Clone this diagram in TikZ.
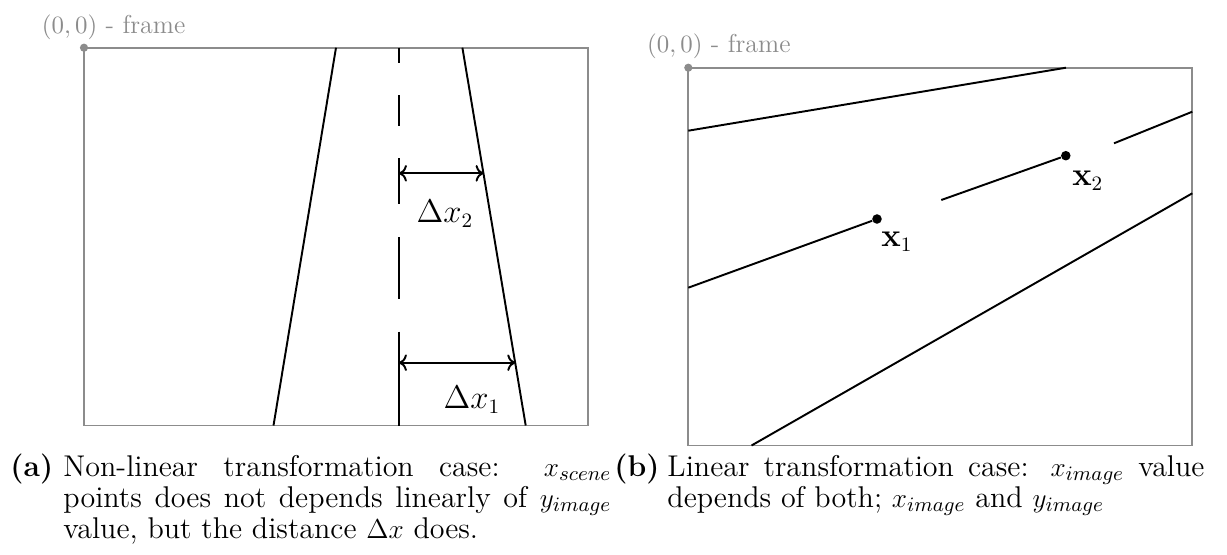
\documentclass[tikz,border=0pt]{standalone}
\usetikzlibrary{arrows.meta,positioning,calc}
\definecolor{framegray}{gray}{0.55}
\tikzset{
  imgframe/.style={draw=framegray, line width=0.85pt},
  road/.style={draw=black, line width=0.85pt},
  origin/.style={circle, fill=framegray, inner sep=0pt, minimum size=3.6pt},
  point/.style={circle, fill=black, inner sep=0pt, minimum size=4.2pt},
  framelabel/.style={text=framegray, font=\fontsize{11.4}{13.7}\selectfont, anchor=base west, inner sep=0pt},
  dimlabel/.style={font=\fontsize{13.4}{15}\selectfont, inner sep=0pt},
  dim/.style={<->, line width=0.85pt},
  caplabel/.style={font=\fontsize{13.2}{13.8}\selectfont\bfseries, anchor=base west, inner sep=0pt},
  captext/.style={font=\fontsize{13.2}{13.8}\selectfont, align=justify, anchor=base west, inner sep=0pt}
}

\begin{document}
\begin{tikzpicture}[x=0.44pt, y=-0.44pt]
  \useasboundingbox (0,0) rectangle (1227,555);

  % (a) non-linear case
  \draw[imgframe] (84,47.7) rectangle (587.7,425.5);
  \node[origin] (oa) at (84,47.7) {};
  \node[framelabel] (fa) at (41.5,33.3) {$(0,0)$ - frame};
  \coordinate (lt) at (336,47.7);
  \coordinate (lb) at (273.5,425.5);
  \coordinate (rt) at (462.4,47.7);
  \coordinate (rb) at (525.7,425.5);
  \draw[road] (lt) -- (lb);
  \draw[road] (rt) -- (rb);
  \foreach \ya/\yb in {47.7/63.3, 95/125.8, 158.3/204.3, 237.3/299.3, 331.7/425.5}
    \draw[road] (399,\ya) -- (399,\yb);
  \coordinate (d2) at (399,173.3);
  \coordinate (d1) at (399,362.7);
  \draw[dim] (d2) -- (d2 -| {$(rt)!0.333!(rb)$}) coordinate (e2);
  \draw[dim] (d1) -- (d1 -| {$(rt)!0.834!(rb)$}) coordinate (e1);
  \node[dimlabel] (dx2) at (445,214) {$\Delta x_2$};
  \node[dimlabel] (dx1) at (472,400) {$\Delta x_1$};

  % (b) linear case
  \draw[imgframe] (688.3,67.7) rectangle (1192.3,445.5);
  \node[origin] (ob) at (688.3,67.7) {};
  \node[framelabel] (fb) at (646.7,52.3) {$(0,0)$ - frame};
  \draw[road] (688.3,130.7) -- (1066,67.7);
  \node[point] (x1) at (877,219) {};
  \node[point] (x2) at (1065.8,155.7) {};
  \draw[road] (688.3,287.7) -- (x1);
  \draw[road] (941.3,200) -- (x2);
  \draw[road] (1114,143.3) -- (1192.3,111.7);
  \draw[road] (751.5,445.5) -- (1192.3,193.3);
  \node[dimlabel] (lx1) at ($(x1)+(20,23)$) {$\mathbf{x}_1$};
  \node[dimlabel] (lx2) at ($(x2)+(22,25)$) {$\mathbf{x}_2$};

  % captions
  \node[caplabel] (ca) at (10,476) {(a)};
  \node[captext, text width=241.1pt] (ta) at (63,476)
    {Non-linear transformation case: $x_{scene}$\linebreak
     points does not depends linearly of $y_{image}$\linebreak
     value, but the distance $\Delta x$ does.};
  \node[caplabel] (cb) at (614,476) {(b)};
  \node[captext, text width=236.3pt] (tb) at (667,476)
    {Linear transformation case: $x_{image}$ value\linebreak
     depends of both; $x_{image}$ and $y_{image}$};
\end{tikzpicture}
\end{document}
